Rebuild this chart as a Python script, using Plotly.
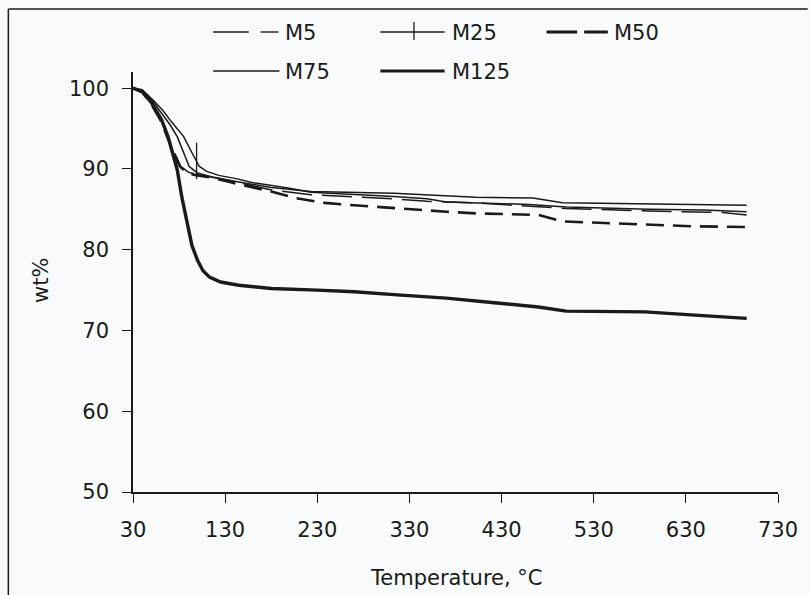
import plotly.graph_objects as go

# ---------------- data ----------------
m5_T = [30, 40, 50, 60, 68, 75, 82, 90, 100, 116, 134, 180, 223, 313, 349, 400, 460, 500, 590, 670, 696]
m5_w = [100, 99.6, 98.2, 96.3, 94.0, 92.0, 90.3, 89.6, 89.3, 89.0, 88.6, 87.4, 86.8, 86.3, 86.0, 85.8, 85.4, 85.1, 84.8, 84.6, 84.3]

m25_T = [30, 40, 52, 62, 72, 85, 94, 99, 102, 110, 123, 142, 160, 200, 223, 313, 349, 370, 460, 500, 590, 650, 696]
m25_w = [100, 99.8, 98.5, 97.3, 95.8, 94.0, 92.0, 91.0, 90.3, 89.7, 89.2, 88.8, 88.3, 87.6, 87.1, 86.6, 86.3, 85.9, 85.6, 85.3, 85.0, 84.9, 84.7]
m25_marker_idx = 7

m50_T = [30, 40, 50, 60, 67, 74, 81, 90, 100, 116, 134, 180, 206, 238, 270, 306, 338, 370, 402, 470, 496, 588, 636, 696]
m50_w = [100, 99.5, 98.0, 96.0, 94.0, 92.0, 90.3, 89.4, 89.2, 88.9, 88.4, 87.2, 86.4, 85.8, 85.5, 85.2, 84.9, 84.7, 84.5, 84.3, 83.5, 83.1, 82.9, 82.8]

m75_T = [30, 40, 50, 60, 70, 78, 85, 91, 100, 116, 134, 180, 223, 313, 402, 464, 496, 588, 625, 696]
m75_w = [100, 99.7, 98.6, 97.0, 95.5, 94.0, 92.0, 90.3, 89.5, 89.0, 88.6, 87.7, 87.2, 87.0, 86.5, 86.4, 85.8, 85.7, 85.6, 85.5]

m125_T = [30, 40, 50, 61, 68, 73, 78, 83, 88, 94, 100, 106, 113, 125, 145, 180, 230, 270, 317, 370, 425, 470, 500, 586, 640, 696]
m125_w = [100, 99.6, 98.2, 96.1, 94.0, 92.0, 89.9, 86.5, 83.7, 80.5, 78.7, 77.4, 76.6, 76.0, 75.6, 75.2, 75.0, 74.8, 74.4, 74.0, 73.4, 72.9, 72.4, 72.3, 71.9, 71.5]

x_ticks = [30, 130, 230, 330, 430, 530, 630, 730]
y_ticks = [50, 60, 70, 80, 90, 100]
series_names = ["M5", "M25", "M50", "M75", "M125"]

# ---------------- layout helpers ----------------
W, H = 810, 595
L, R, T, B = 133, 25, 72, 103
PW, PH = W - L - R, H - T - B


def px(x):
    return (x - L) / PW


def py(y):
    return (H - B - y) / PH


INK = "#1a1a1a"
FONT = "DejaVu Sans"

fig = go.Figure()
line_kw = dict(mode="lines", showlegend=False, hoverinfo="skip")
fig.add_trace(go.Scatter(x=m50_T, y=m50_w, name="M50", line=dict(color=INK, width=2.6, dash="18px,9px"), **line_kw))
fig.add_trace(go.Scatter(x=m5_T, y=m5_w, name="M5", line=dict(color=INK, width=1.5, dash="30px,10px"), **line_kw))
fig.add_trace(go.Scatter(x=m75_T, y=m75_w, name="M75", line=dict(color=INK, width=1.5), **line_kw))
fig.add_trace(go.Scatter(x=m25_T, y=m25_w, name="M25", line=dict(color=INK, width=1.5), **line_kw))
fig.add_trace(go.Scatter(x=[m25_T[m25_marker_idx]], y=[m25_w[m25_marker_idx]], mode="markers",
                         marker=dict(symbol="line-ns", size=26, line=dict(color=INK, width=1.3)),
                         showlegend=False, hoverinfo="skip"))
fig.add_trace(go.Scatter(x=m125_T, y=m125_w, name="M125", line=dict(color=INK, width=3.4), **line_kw))

fig.update_xaxes(range=[30, 730], tickvals=x_ticks, ticktext=[str(v) for v in x_ticks],
                 showgrid=False, zeroline=False, showline=True, linecolor=INK, linewidth=1.5,
                 ticks="outside", ticklen=9, tickwidth=1.2, tickcolor=INK,
                 tickfont=dict(family=FONT, size=21, color=INK), ticklabelstandoff=9)
fig.update_yaxes(range=[50, 102], tickvals=y_ticks, ticktext=[str(v) for v in y_ticks],
                 showgrid=False, zeroline=False, showline=True, linecolor=INK, linewidth=1.5,
                 ticks="outside", ticklen=9, tickwidth=1.2, tickcolor=INK,
                 tickfont=dict(family=FONT, size=21, color=INK), ticklabelstandoff=9)

shapes = []
annotations = []
# frame of the original picture (left and top edges)
shapes.append(dict(type="line", xref="paper", yref="paper", x0=px(7), x1=px(7), y0=py(9), y1=py(600),
                   line=dict(color=INK, width=1.5)))
shapes.append(dict(type="line", xref="paper", yref="paper", x0=px(7), x1=px(815), y0=py(9), y1=py(9),
                   line=dict(color=INK, width=1.5)))

# manual legend
def seg(x0, x1, y, w, dash="solid"):
    shapes.append(dict(type="line", xref="paper", yref="paper", x0=px(x0), x1=px(x1), y0=py(y), y1=py(y),
                       line=dict(color=INK, width=w, dash=dash)))


def label(x, y, text):
    annotations.append(dict(x=px(x), y=py(y), xref="paper", yref="paper", text=text, showarrow=False,
                            xanchor="left", yanchor="middle", font=dict(family=FONT, size=21, color=INK)))


y1, y2 = 32, 71
seg(214, 250, y1, 1.4); seg(262, 280, y1, 1.4); label(285, y1 + 1, series_names[0])
seg(383, 448, y1, 1.4)
shapes.append(dict(type="line", xref="paper", yref="paper", x0=px(417), x1=px(417), y0=py(22), y1=py(40),
                   line=dict(color=INK, width=1.3)))
label(453, y1 + 1, series_names[1])
seg(551, 582, y1, 3); seg(589, 613, y1, 3); label(617, y1 + 1, series_names[2])
seg(214, 281, y2, 1.4); label(285, y2 + 1, series_names[3])
seg(383, 448, y2, 3); label(453, y2 + 1, series_names[4])

# axis titles
annotations.append(dict(x=px(460), y=py(578), xref="paper", yref="paper", text="Temperature, °C",
                        xanchor="center", yanchor="middle",
                        showarrow=False, font=dict(family=FONT, size=21, color=INK)))
annotations.append(dict(x=px(40), y=py(280), xref="paper", yref="paper", text="wt%", textangle=-90,
                        xanchor="center", yanchor="middle",
                        showarrow=False, font=dict(family=FONT, size=21, color=INK)))

fig.update_layout(width=W, height=H, margin=dict(l=L, r=R, t=T, b=B),
                  paper_bgcolor="#f9fafc", plot_bgcolor="#f9fafc",
                  showlegend=False, shapes=shapes, annotations=annotations)

fig.write_html("out.html")
